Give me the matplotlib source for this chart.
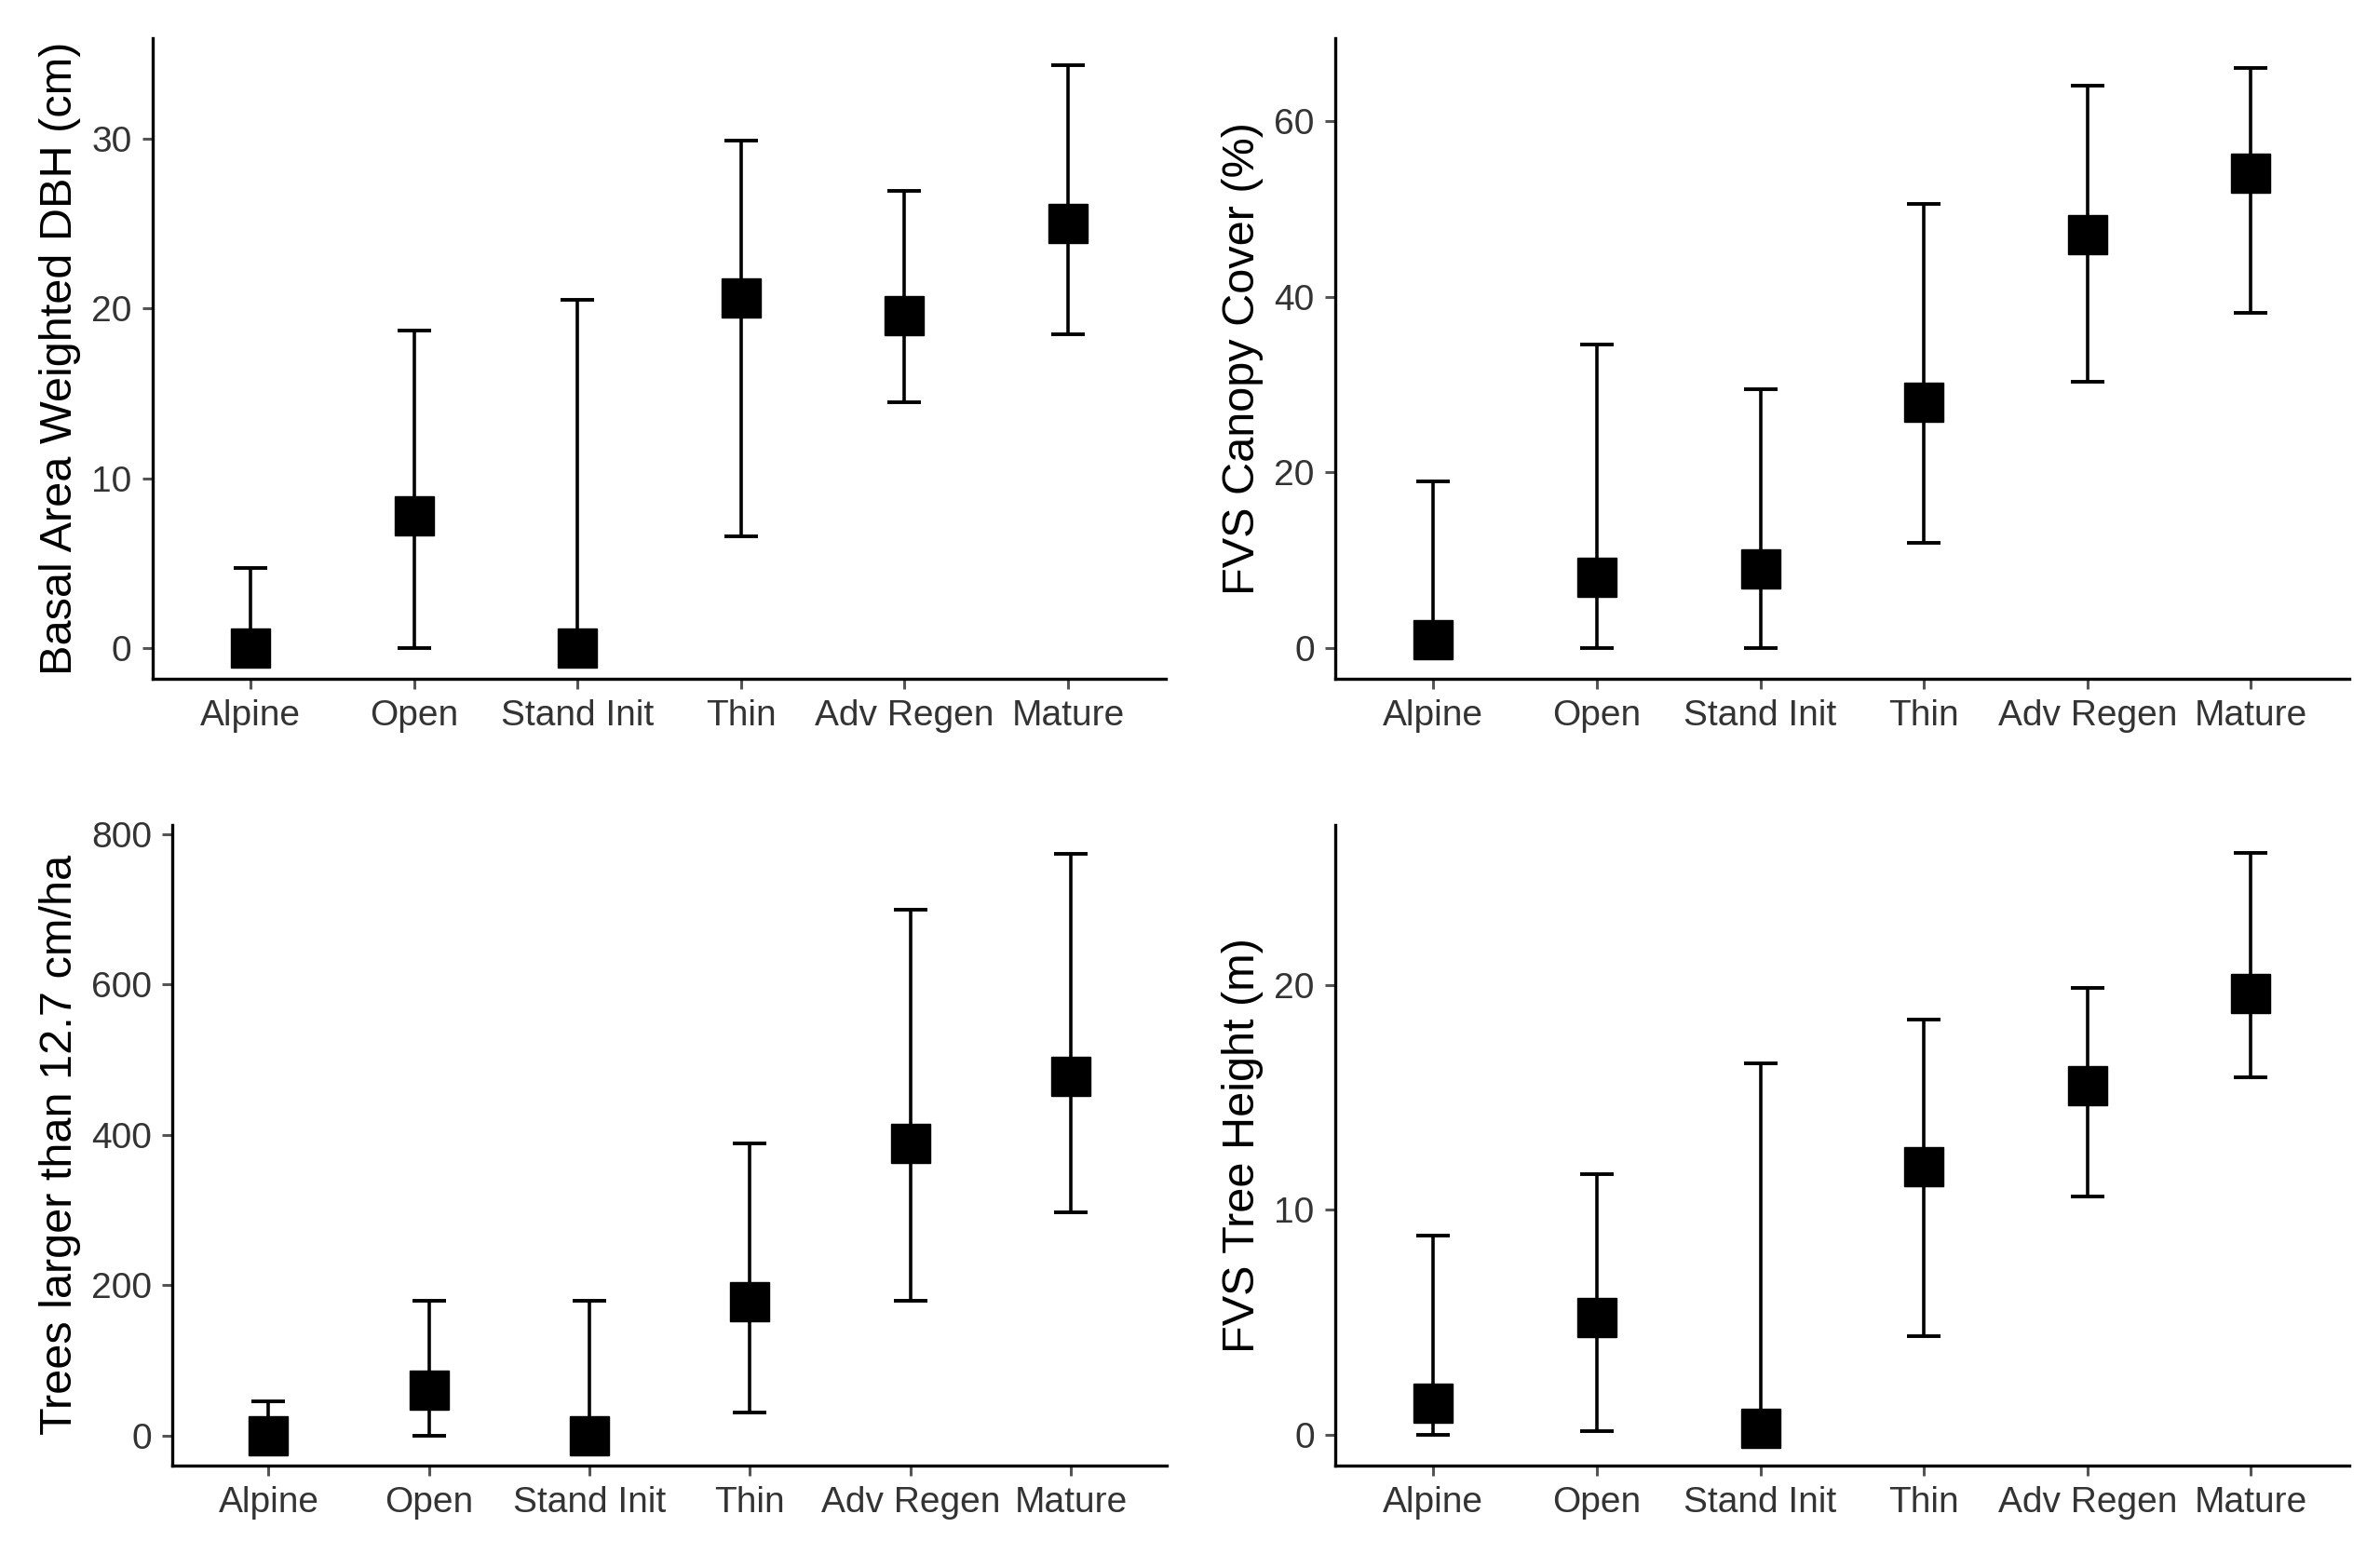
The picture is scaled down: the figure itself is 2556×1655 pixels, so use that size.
import numpy as np
import matplotlib
matplotlib.use("Agg")
import matplotlib.pyplot as plt

plt.rcParams["font.family"] = ["Liberation Sans", "DejaVu Sans"]

categories = ["Alpine", "Open", "Stand Init", "Thin", "Adv Regen", "Mature"]

# basal area weighted DBH (cm)
dbh_mean = [0.0, 7.8, 0.0, 20.6, 19.6, 25.0]
dbh_low  = [0.0, 0.0, 0.0, 6.6, 14.5, 18.5]
dbh_high = [4.7, 18.7, 20.5, 29.9, 26.9, 34.3]

# FVS canopy cover (%)
cc_mean = [1.0, 8.0, 9.0, 28.0, 47.0, 54.0]
cc_low  = [0.0, 0.0, 0.0, 12.0, 30.3, 38.1]
cc_high = [19.0, 34.5, 29.5, 50.5, 64.0, 66.0]

# trees larger than 12.7 cm / ha
tph_mean = [0.0, 60.0, 0.0, 178.0, 388.0, 477.0]
tph_low  = [0.0, 0.0, 0.0, 30.0, 179.0, 297.0]
tph_high = [45.0, 179.0, 179.0, 388.0, 699.0, 773.0]

# FVS tree height (m)
ht_mean = [1.4, 5.2, 0.3, 11.9, 15.5, 19.6]
ht_low  = [0.0, 0.15, 0.0, 4.4, 10.6, 15.9]
ht_high = [8.85, 11.6, 16.5, 18.45, 19.85, 25.85]

panels = [
    ([0.064, 0.5595, 0.426, 0.4157], dbh_mean, dbh_low, dbh_high,
     "Basal Area Weighted DBH (cm)", [0, 10, 20, 30], (-1.8, 35.9)),
    ([0.561, 0.5595, 0.426, 0.4157], cc_mean, cc_low, cc_high,
     "FVS Canopy Cover (%)", [0, 20, 40, 60], (-3.5, 69.4)),
    ([0.0724, 0.049, 0.418, 0.4157], tph_mean, tph_low, tph_high,
     "Trees larger than 12.7 cm/ha", [0, 200, 400, 600, 800], (-40, 812)),
    ([0.561, 0.049, 0.426, 0.4157], ht_mean, ht_low, ht_high,
     "FVS Tree Height (m)", [0, 10, 20], (-1.36, 27.1)),
]

fig = plt.figure(figsize=(25.56, 16.55), dpi=100)
fig.patch.set_facecolor("white")

x = np.arange(1, len(categories) + 1)
for rect, mean, low, high, ylab, yt, ylim in panels:
    ax = fig.add_axes(rect)
    mean = np.array(mean)
    err = [mean - np.array(low), np.array(high) - mean]
    ax.errorbar(x, mean, yerr=err, fmt="none", ecolor="black",
                elinewidth=2.6, capsize=13, capthick=2.8, zorder=2)
    ax.plot(x, mean, ls="none", marker="s", ms=30, color="black", zorder=3)
    ax.set_xlim(0.4, 6.6)
    ax.set_ylim(*ylim)
    ax.set_xticks(x)
    ax.set_xticklabels(categories)
    ax.set_yticks(yt)
    ax.set_ylabel(ylab, fontsize=35, color="black", labelpad=8)
    ax.tick_params(axis="both", labelsize=28, labelcolor="#333333",
                   color="#555555", length=8, width=2.2, pad=8)
    for side in ("top", "right"):
        ax.spines[side].set_visible(False)
    for side in ("left", "bottom"):
        ax.spines[side].set_color("black")
        ax.spines[side].set_linewidth(2.4)

fig.savefig("out.png", dpi=100, facecolor="white")
